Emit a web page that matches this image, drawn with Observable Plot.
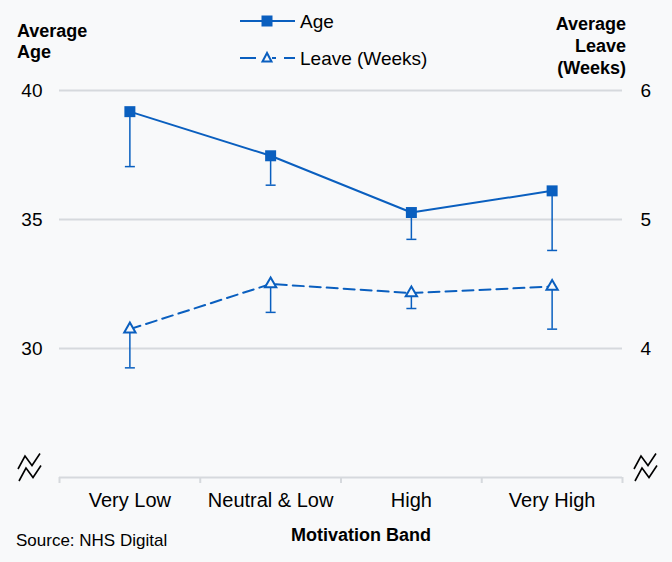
<!DOCTYPE html>
<html><head><meta charset="utf-8">
<script src="https://cdn.jsdelivr.net/npm/d3@7"></script>
<script src="https://cdn.jsdelivr.net/npm/@observablehq/plot@0.6"></script>
<style>
html,body{margin:0;padding:0;background:#f8f9fa;}
#wrap{position:relative;width:672px;height:562px;font-family:"Liberation Sans",Arial,sans-serif;background:#f8f9fa;overflow:hidden;}
.ov{position:absolute;white-space:nowrap;color:#000;line-height:1;}
.b{font-weight:bold;}
#wrap svg.plot{position:absolute;left:0;top:0;}
</style></head><body><div id="wrap"></div>
<script>
// ---- data ----
const categories = ["Very Low", "Neutral & Low", "High", "Very High"];
const ageMean  = [39.18, 37.47, 35.27, 36.11];
const ageLower = [37.05, 36.33, 34.23, 33.80];
const leaveMean  = [4.15, 4.50, 4.43, 4.48];
const leaveLower = [3.85, 4.28, 4.31, 4.15];
const ageTicks = [30, 35, 40];
const leaveTicks = [4, 5, 6];
const ageFloor = 25;

const blue = "#0a5fbf";
const bg = "#f8f9fa";
const grid = "#d6d9dd";

// map leave (right axis) onto age (left axis) scale
const leave2age = d3.scaleLinear().domain(d3.extent(leaveTicks)).range(d3.extent(ageTicks));

const rows = categories.map((c, i) => ({
  i, c,
  age: ageMean[i], ageLo: ageLower[i],
  leave: leave2age(leaveMean[i]), leaveLo: leave2age(leaveLower[i])
}));
const bounds = d3.range(categories.length + 1).map(k => k - 0.5);

const cap = {draw(ctx, size) { const r = Math.sqrt(size / Math.PI); ctx.moveTo(-r, 0); ctx.lineTo(r, 0); }};

const plot = Plot.plot({
  width: 672, height: 562,
  marginLeft: 59, marginRight: 50, marginTop: 90, marginBottom: 85,
  style: {background: "transparent", fontFamily: "'Liberation Sans', Arial, sans-serif", fontSize: "19px", color: "#000", overflow: "visible"},
  x: {type: "linear", domain: [-0.5, categories.length - 0.5], label: null},
  y: {domain: [ageFloor, d3.max(ageTicks)], label: null},
  marks: [
    Plot.ruleY(ageTicks, {stroke: grid, strokeWidth: 2}),
    Plot.ruleY([ageFloor], {stroke: grid, strokeWidth: 2}),
    Plot.axisX({ticks: bounds, tickFormat: () => "", tickSize: 6, stroke: grid, strokeWidth: 2, label: null}),
    Plot.axisX({ticks: d3.range(categories.length), tickFormat: i => categories[i], tickSize: 0, tickPadding: 15, fontSize: 20, label: null}),
    Plot.axisY({anchor: "left", ticks: ageTicks, tickSize: 0, tickPadding: 17, label: null, fontSize: 19}),
    Plot.axisY({anchor: "right", ticks: ageTicks, tickFormat: d => leave2age.invert(d), tickSize: 0, tickPadding: 18, label: null, fontSize: 19}),
    // error bars
    Plot.ruleX(rows, {x: "i", y1: "age", y2: "ageLo", stroke: blue, strokeWidth: 1.5}),
    Plot.dot(rows, {x: "i", y: "ageLo", symbol: cap, r: 5, stroke: blue, strokeWidth: 1.5}),
    Plot.ruleX(rows, {x: "i", y1: "leave", y2: "leaveLo", stroke: blue, strokeWidth: 1.5}),
    Plot.dot(rows, {x: "i", y: "leaveLo", symbol: cap, r: 5, stroke: blue, strokeWidth: 1.5}),
    // series
    Plot.line(rows, {x: "i", y: "leave", stroke: blue, strokeWidth: 2, strokeDasharray: "11,6"}),
    Plot.dot(rows, {x: "i", y: "leave", symbol: "triangle", r: 4.2, fill: bg, stroke: blue, strokeWidth: 2}),
    Plot.line(rows, {x: "i", y: "age", stroke: blue, strokeWidth: 2}),
    Plot.dot(rows, {x: "i", y: "age", symbol: "square", r: 6.2, fill: blue})
  ]
});
plot.classList.add("plot");
const wrap = document.getElementById("wrap");
wrap.appendChild(plot);

function ov(html, css, cls) {
  const d = document.createElement("div");
  d.className = "ov " + (cls || "");
  d.innerHTML = html;
  Object.assign(d.style, css);
  wrap.appendChild(d);
  return d;
}
// axis titles
ov("Average<br>Age", {left: "17px", top: "21px", fontSize: "18px", lineHeight: "21px"}, "b");
ov("Average<br>Leave<br>(Weeks)", {right: "46px", top: "13px", fontSize: "18px", lineHeight: "22px", textAlign: "right"}, "b");
ov("Motivation Band", {left: "361px", top: "526px", fontSize: "18px", transform: "translateX(-50%)"}, "b");
ov("Source: NHS Digital", {left: "16px", top: "532px", fontSize: "17px"});

// legend
const legend = document.createElementNS("http://www.w3.org/2000/svg", "svg");
legend.setAttribute("width", "60"); legend.setAttribute("height", "70");
legend.style.position = "absolute"; legend.style.left = "238px"; legend.style.top = "0px";
legend.innerHTML = `
  <line x1="2" x2="57" y1="21" y2="21" stroke="${blue}" stroke-width="2"/>
  <rect x="23.5" y="15.5" width="11" height="11" fill="${blue}"/>
  <line x1="2" x2="18" y1="58" y2="58" stroke="${blue}" stroke-width="2"/>
  <line x1="34" x2="38" y1="58" y2="58" stroke="${blue}" stroke-width="2"/>
  <line x1="46" x2="57" y1="58" y2="58" stroke="${blue}" stroke-width="2"/>
  <path d="M29,53 L24.5,61.5 L33.5,61.5 Z" fill="${bg}" stroke="${blue}" stroke-width="2"/>`;
wrap.appendChild(legend);
ov("Age", {left: "300px", top: "12px", fontSize: "19px"});
ov("Leave (Weeks)", {left: "300px", top: "49px", fontSize: "19px"});

// axis break symbols
function brk(left) {
  const s = document.createElementNS("http://www.w3.org/2000/svg", "svg");
  s.setAttribute("width", "30"); s.setAttribute("height", "34");
  s.style.position = "absolute"; s.style.left = left + "px"; s.style.top = "451px";
  s.innerHTML = `<path d="M2,18 L9,5 L16,14.5 L24,2.5 M3,30 L10,17 L17,26.5 L25,14.5" fill="none" stroke="#000" stroke-width="1.6"/>`;
  wrap.appendChild(s);
}
brk(16); brk(632);
</script></body></html>
